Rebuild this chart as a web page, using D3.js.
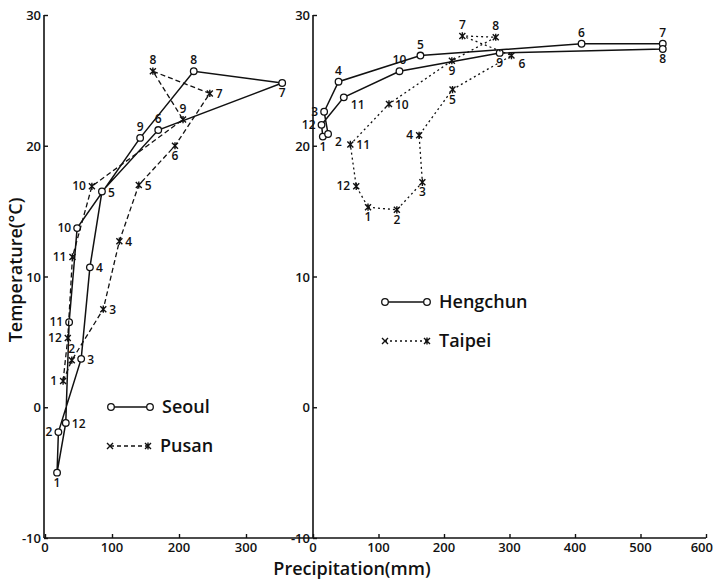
<!DOCTYPE html>
<html><head><meta charset="utf-8">
<script src="https://cdn.jsdelivr.net/npm/d3@7"></script>
<style>
body{margin:0;background:#fff;}
svg text{font-family:"Open Sans","DejaVu Sans",sans-serif;fill:#111;}
</style></head>
<body><svg id="c" width="714" height="581"></svg>
<script>
const months = [1,2,3,4,5,6,7,8,9,10,11,12];
// Left panel
const seoulPrecip = [18,20,54,67,85,169,354,222,142,48,36,31];
const seoulTemp   = [-5.0,-1.9,3.7,10.7,16.5,21.2,24.8,25.7,20.6,13.7,6.5,-1.2];
const seoulLabel  = ['b','l','r','r','r','t','b','t','t','l','l','r'];
const pusanPrecip = [27,40,87,111,140,194,246,161,206,70,41,34];
const pusanTemp   = [2.0,3.6,7.5,12.7,17.0,20.0,24.0,25.7,22.0,16.9,11.5,5.3];
const pusanLabel  = ['l','t','r','r','r','b','r','t','t','l','l','l'];
// Right panel
const hengPrecip  = [15,23,17,39,164,410,534,534,285,132,47,13];
const hengTemp    = [20.7,20.9,22.6,24.9,26.9,27.8,27.8,27.4,27.1,25.7,23.7,21.6];
const hengLabel   = ['b','br','l','t','t','t','t','b','b','t','br','l'];
const taipPrecip  = [84,128,167,162,213,303,228,279,212,116,57,66];
const taipTemp    = [15.3,15.1,17.2,20.8,24.3,26.9,28.4,28.3,26.5,23.2,20.1,16.9];
const taipLabel   = ['b','b','b','l','b','br','t','t','b','r','r','l'];

const leftTicks = [0,100,200,300];
const rightTicks = [0,100,200,300,400,500,600];
const yTicks = [-10,0,10,20,30];

const svg = d3.select('#c');
const y = d3.scaleLinear().domain([-10,30]).range([538,15]);
const xL = d3.scaleLinear().domain([0,400]).range([45,313]);
const xR = d3.scaleLinear().domain([0,600]).range([313,706]);

function yAxis(x0){
  const g = svg.append('g').attr('transform',`translate(${x0},0)`)
    .call(d3.axisRight(y).tickValues(yTicks).tickSize(4).tickFormat(''));
  g.select('.domain').attr('stroke','#111').attr('stroke-width',1.6).attr('d',`M0,${y(30)}V${y(-10)}`);
  g.selectAll('.tick line').attr('stroke','#111').attr('stroke-width',1.4);
  yTicks.forEach(t=>{
    svg.append('text').attr('x',x0-3).attr('y',y(t)+5).attr('text-anchor','end')
      .attr('font-size',13).attr('font-weight',600).text(t);
  });
}
yAxis(44); yAxis(313);

const gxL = svg.append('g').attr('transform','translate(0,538)')
  .call(d3.axisTop(xL).tickValues(leftTicks).tickSize(4).tickFormat(''));
const gxR = svg.append('g').attr('transform','translate(0,538)')
  .call(d3.axisTop(xR).tickValues(rightTicks).tickSize(4).tickFormat(''));
[gxL,gxR].forEach(g=>{
  g.select('.domain').attr('stroke','#111').attr('stroke-width',1.6);
  g.selectAll('.tick line').attr('stroke','#111').attr('stroke-width',1.4);
});
gxL.select('.domain').attr('d',`M44,0H313`);
gxR.select('.domain').attr('d',`M313,0H706`);
leftTicks.forEach(t=>svg.append('text').attr('x',xL(t)).attr('y',552).attr('text-anchor','middle')
  .attr('font-size',13).attr('font-weight',600).text(t));
rightTicks.forEach(t=>svg.append('text').attr('x',t===600?713:xR(t)).attr('y',552)
  .attr('text-anchor',t===600?'end':'middle')
  .attr('font-size',13).attr('font-weight',600).text(t));

svg.append('text').attr('transform','translate(22,270) rotate(-90)').attr('text-anchor','middle')
  .attr('font-size',18).attr('font-weight',600).text('Temperature(°C)');
svg.append('text').attr('x',352).attr('y',575).attr('text-anchor','middle')
  .attr('font-size',18).attr('font-weight',600).text('Precipitation(mm)');

const off = {b:[0,14],t:[0,-7],l:[-6,4],r:[6,5],br:[7,12]};
const anchor = {b:'middle',t:'middle',l:'end',r:'start',br:'start'};

function star(g,cx,cy,s){
  const p = `M${cx-s},${cy-s}L${cx+s},${cy+s}M${cx-s},${cy+s}L${cx+s},${cy-s}M${cx},${cy-s*1.2}L${cx},${cy+s*1.2}`;
  g.append('path').attr('d',p).attr('stroke','#111').attr('stroke-width',1.4).attr('fill','none');
}

function series(xs, P, T, L, kind, dash){
  const pts = months.map((m,i)=>[xs(P[i]), y(T[i])]);
  const g = svg.append('g');
  g.append('path').attr('d', d3.line()(pts.concat([pts[0]])))
    .attr('fill','none').attr('stroke','#111').attr('stroke-width',kind==='c'?1.5:1.3)
    .attr('stroke-dasharray',dash);
  pts.forEach((p,i)=>{
    if(kind==='c') g.append('circle').attr('cx',p[0]).attr('cy',p[1]).attr('r',3.3)
      .attr('fill','#fff').attr('stroke','#111').attr('stroke-width',1.3);
    else star(g,p[0],p[1],3);
    const o = off[L[i]];
    g.append('text').attr('x',p[0]+o[0]).attr('y',p[1]+o[1]).attr('text-anchor',anchor[L[i]])
      .attr('font-size',12).attr('font-weight',600).text(months[i]);
  });
}
series(xL, seoulPrecip, seoulTemp, seoulLabel, 'c', null);
series(xL, pusanPrecip, pusanTemp, pusanLabel, 'x', '5,3');
series(xR, hengPrecip, hengTemp, hengLabel, 'c', null);
series(xR, taipPrecip, taipTemp, taipLabel, 'x', '2,3');

function legend(x0,x1,yy,kind,dash,label){
  const g = svg.append('g');
  g.append('line').attr('x1',x0).attr('x2',x1).attr('y1',yy).attr('y2',yy)
    .attr('stroke','#111').attr('stroke-width',1.4).attr('stroke-dasharray',dash);
  if(kind==='c'){
    [x0,x1].forEach(x=>g.append('circle').attr('cx',x).attr('cy',yy).attr('r',3.3)
      .attr('fill','#fff').attr('stroke','#111').attr('stroke-width',1.3));
  } else {
    g.append('path').attr('d',`M${x0-3},${yy-3}L${x0+3},${yy+3}M${x0-3},${yy+3}L${x0+3},${yy-3}`)
      .attr('stroke','#111').attr('stroke-width',1.4);
    star(g,x1,yy,3);
  }
  g.append('text').attr('x',x1+12).attr('y',yy+6).attr('font-size',18).attr('font-weight',600).text(label);
}
legend(111,150,407,'c',null,'Seoul');
legend(110,148,446,'x','4,3','Pusan');
legend(385,427,302,'c',null,'Hengchun');
legend(385,427,341,'x','2,3','Taipei');
</script></body></html>
